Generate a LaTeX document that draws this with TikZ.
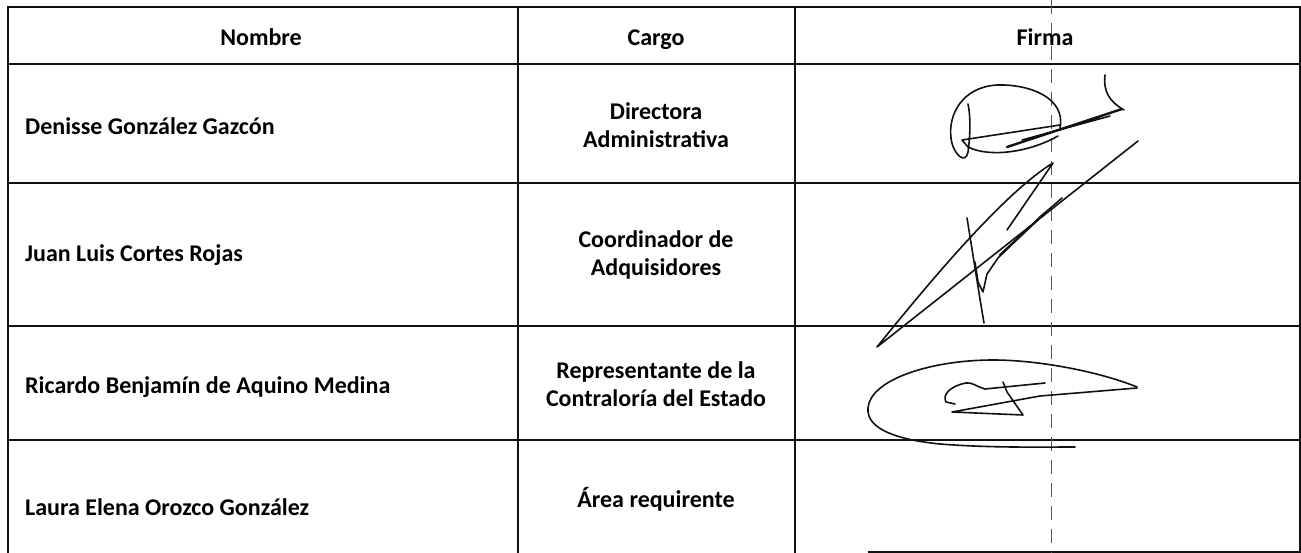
\documentclass[tikz,border=0pt]{standalone}
\usepackage{fontspec}
\setmainfont{Carlito}
\usetikzlibrary{positioning, calc}
\definecolor{inkblack}{HTML}{111111}
\definecolor{rulegray}{HTML}{555555}

\begin{document}
\begin{tikzpicture}[x=1pt, y=-1pt, font=\fontsize{24}{28}\selectfont\bfseries,
    head/.style={inner sep=0pt, anchor=base},
    person/.style={inner sep=0pt, anchor=base west},
    cargo/.style={inner sep=0pt, align=center, anchor=base},
    rule/.style={line width=1.3pt, inkblack},
    sig/.style={line width=1.6pt, inkblack, line cap=round, line join=round}]

    \useasboundingbox (0,0) rectangle (1301,553);

    % table rules
    \draw [rule] (8,553) -- (8,7) -- (1300,7) -- (1300,553);
    \foreach \y in {64,183,326,440} {
      \draw [rule] (8,\y) -- (1300,\y);
    }
    \foreach \x in {518,795} {
      \draw [rule] (\x,7) -- (\x,553);
    }
    \draw [rule] (868,552) -- (1300,552);
    \draw [rulegray, line width=0.7pt, dash pattern=on 14pt off 9pt] (1051,0) -- (1051,553);

    % header
    \node (hNombre) [head] at (261,46) {Nombre};
    \node (hCargo) [head] at (656,46) {Cargo};
    \node (hFirma) [head] at (1045,46) {Firma};

    % names
    \node (n1) [person] at (25,135) {Denisse González Gazcón};
    \node (n2) [person] at (25,262) {Juan Luis Cortes Rojas};
    \node (n3) [person] at (25,393) {Ricardo Benjamín de Aquino Medina};
    \node (n4) [person] at (25,515) {Laura Elena Orozco González};

    % cargos (base = last line)
    \node (c1) [cargo] at (656,148) {Directora\\Administrativa};
    \node (c2) [cargo] at (656,276) {Coordinador de\\Adquisidores};
    \node (c3) [cargo] at (656,406) {Representante de la\\Contraloría del Estado};
    \node (c4) [cargo] at (656,507) {Área requirente};

    % firma 1
    \draw [sig] (1060,128) .. controls (1066,98) and (1030,84) .. (997,85) .. controls (962,87) and (948,115) .. (951,138) .. controls (953,155) and (966,165) .. (968,152) .. controls (970,138) and (971,118) .. (968,104);
    \draw [sig] (1060,125) -- (962,140) -- (968,147) .. controls (990,158) and (1030,152) .. (1058,136);
    \draw [sig, line width=2.4pt] (1007,147) -- (1122,109);
    \draw [sig] (1022,140) -- (1110,116);
    \draw [sig] (1045,134) -- (1100,118);
    \draw [sig] (1105,75) .. controls (1103,92) and (1110,102) .. (1124,110);

    % firma 2
    \draw [sig] (1138,141) -- (877,347) .. controls (915,300) and (1000,195) .. (1053,163) -- (1007,230);
    \draw [sig] (967,218) .. controls (973,255) and (980,300) .. (984,323);
    \draw [sig] (975,262) -- (978,282) -- (983,292) -- (987,274) -- (998,258) -- (1040,217) -- (1062,198);
    \draw [sig, line width=2.2pt] (1000,255) -- (1045,213);

    % firma 3
    \draw [sig] (1137,387) .. controls (1100,372) and (1040,360) .. (993,360) .. controls (930,360) and (870,380) .. (868,408) .. controls (866,430) and (900,440) .. (940,444) .. controls (990,448) and (1040,447) .. (1075,447);
    \draw [sig] (1137,388) -- (1040,396) -- (952,412) -- (1023,415) -- (1007,392) -- (1003,382);
    \draw [sig] (1045,383) -- (1025,385) -- (1005,387) -- (985,389) .. controls (975,386) and (972,382) .. (966,383) .. controls (950,386) and (942,395) .. (946,402) -- (955,404);
\end{tikzpicture}
\end{document}
